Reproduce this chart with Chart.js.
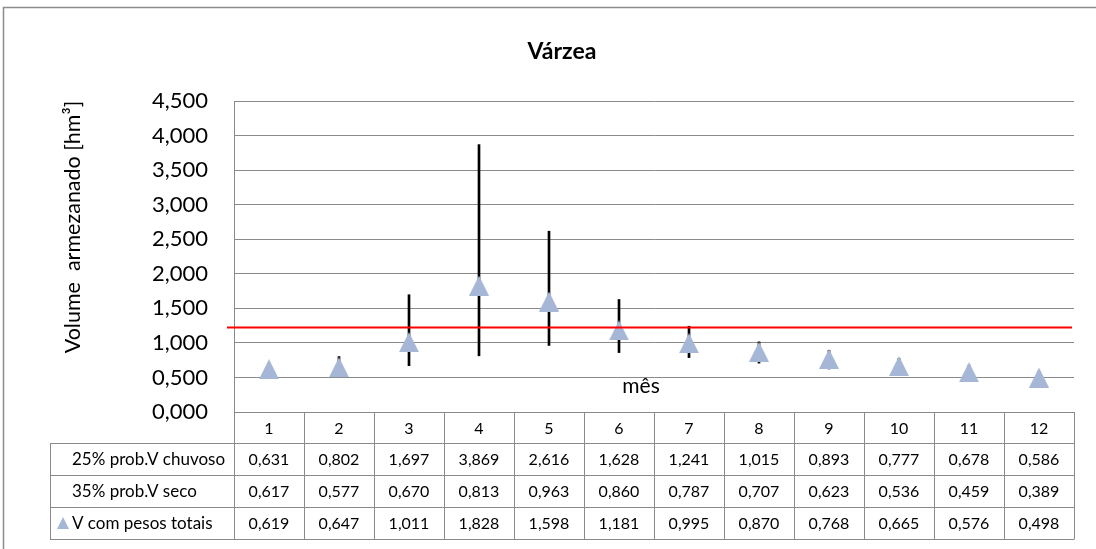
<!DOCTYPE html>
<html><head><meta charset="utf-8">
<script src="https://cdn.jsdelivr.net/npm/chart.js@4.4.0/dist/chart.umd.min.js"></script>
<style>html,body{margin:0;padding:0;background:#fff;}canvas{display:block;}</style>
</head><body>
<canvas id="c" width="1096" height="549"></canvas>
<script>
// ---- data ----
const months = ['1','2','3','4','5','6','7','8','9','10','11','12'];
const chuvoso25 = [0.631,0.802,1.697,3.869,2.616,1.628,1.241,1.015,0.893,0.777,0.678,0.586];
const seco35    = [0.617,0.577,0.670,0.813,0.963,0.860,0.787,0.707,0.623,0.536,0.459,0.389];
const pesosTotais = [0.619,0.647,1.011,1.828,1.598,1.181,0.995,0.870,0.768,0.665,0.576,0.498];
const rowLabels = ['25% prob.V chuvoso','35% prob.V seco','V com pesos totais'];
const referenceLevel = [1.235];
const chartTitle = 'Várzea';
const yTitle = 'Volume  armezanado [hm³]';
const xTitle = 'mês';

// ---- styles ----
const FONT = 'Lato, "Open Sans", sans-serif';
const GRID = '#8a8a8a';
const MARK = '#A6B6D6';

function triangleImage(size, color){
  const c = document.createElement('canvas'); c.width = size; c.height = size;
  const g = c.getContext('2d'); g.fillStyle = color; g.beginPath();
  g.moveTo(size/2, 0); g.lineTo(size, size); g.lineTo(0, size); g.closePath(); g.fill();
  return c;
}
const marker = triangleImage(20, MARK);
const legendMarker = triangleImage(12, MARK);
const fmt = v => Number(v).toFixed(3).replace('.', ',');
const errorRanges = seco35.map((lo, i) => [lo, chuvoso25[i]]);

const decor = {
  id: 'decor',
  beforeDraw(chart){
    const ctx = chart.ctx; ctx.save();
    ctx.fillStyle = '#fff'; ctx.fillRect(0, 0, chart.width, chart.height);
    ctx.strokeStyle = '#8c8c8c'; ctx.lineWidth = 1.5;
    ctx.beginPath(); ctx.moveTo(3.5, chart.height); ctx.lineTo(3.5, 7.5); ctx.lineTo(chart.width, 7.5); ctx.stroke();
    ctx.restore();
  },
  afterDatasetsDraw(chart){
    const ctx = chart.ctx, ca = chart.chartArea, ys = chart.scales.y;
    const y = Math.round(ys.getPixelForValue(referenceLevel[0])) + 0.5;
    ctx.save(); ctx.strokeStyle = '#ff0000'; ctx.lineWidth = 2;
    ctx.beginPath(); ctx.moveTo(ca.left - 7, y); ctx.lineTo(ca.right - 2, y); ctx.stroke();
    ctx.restore();
  },
  afterDraw(chart){
    const ctx = chart.ctx, ca = chart.chartArea, xs = chart.scales.x;
    ctx.save();
    // title
    ctx.fillStyle = '#000'; ctx.textAlign = 'center'; ctx.textBaseline = 'middle';
    ctx.font = 'bold 23px ' + FONT; ctx.fillText(chartTitle, 562, 52);
    // x title inside plot
    ctx.font = '21px ' + FONT; ctx.fillText(xTitle, 641, 386);
    // y title
    ctx.save(); ctx.translate(73, 227); ctx.rotate(-Math.PI/2);
    ctx.font = '21.5px ' + FONT; ctx.fillText(yTitle, 0, 0); ctx.restore();

    // data table
    const n = months.length;
    const colW = (ca.right - ca.left) / n;
    const top = Math.round(ca.bottom);
    const rows = [top, top + 31, top + 63, top + 95, top + 127];
    const labelLeft = 50;
    ctx.strokeStyle = GRID; ctx.lineWidth = 1;
    ctx.beginPath();
    for (let r = 1; r < rows.length; r++){
      ctx.moveTo(labelLeft, rows[r] + 0.5); ctx.lineTo(ca.right, rows[r] + 0.5);
    }
    ctx.moveTo(labelLeft + 0.5, rows[1]); ctx.lineTo(labelLeft + 0.5, rows[4]);
    for (let k = 0; k <= n; k++){
      const x = Math.round(ca.left + k * colW) + 0.5;
      ctx.moveTo(x, rows[0]); ctx.lineTo(x, rows[4] + 0.5);
    }
    ctx.stroke();
    ctx.font = '16px ' + FONT; ctx.fillStyle = '#000'; ctx.textBaseline = 'middle';
    ctx.textAlign = 'center';
    const series = [chuvoso25, seco35, pesosTotais];
    months.forEach((m, i) => {
      const cx = xs.getPixelForValue(i);
      ctx.fillText(m, cx, (rows[0] + rows[1]) / 2 + 1);
      series.forEach((s, r) => ctx.fillText(fmt(s[i]), cx, (rows[r+1] + rows[r+2]) / 2 + 1));
    });
    ctx.textAlign = 'left';
    ctx.font = '17px ' + FONT;
    rowLabels.forEach((lab, r) => ctx.fillText(lab, 72, (rows[r+1] + rows[r+2]) / 2 + 1));
    const ly = (rows[3] + rows[4]) / 2;
    ctx.drawImage(legendMarker, 57, ly - 6);
    ctx.restore();
  }
};

new Chart(document.getElementById('c'), {
  data: {
    labels: months,
    datasets: [
      { type: 'line', label: rowLabels[2], data: pesosTotais, showLine: false,
        pointStyle: marker, pointRadius: 10, pointHoverRadius: 10, order: 0 },
      { type: 'bar', label: 'range', data: errorRanges, backgroundColor: '#000',
        borderWidth: 0, barThickness: 2, order: 1 }
    ]
  },
  options: {
    responsive: false, animation: false, devicePixelRatio: 1,
    layout: { padding: { left: 0, right: 22, top: 101, bottom: 137 } },
    plugins: { legend: { display: false }, tooltip: { enabled: false }, title: { display: false } },
    scales: {
      x: { type: 'category', offset: true, display: false, grid: { display: false } },
      y: { min: 0, max: 4.5,
        ticks: { stepSize: 0.5, callback: v => fmt(v), color: '#000', padding: 26, font: { family: FONT, size: 22 } },
        grid: { color: GRID, drawTicks: false, lineWidth: 1 },
        border: { display: true, color: GRID, width: 1 },
        afterFit(s){ s.width = 234; } }
    }
  },
  plugins: [decor]
});
</script>
</body></html>
